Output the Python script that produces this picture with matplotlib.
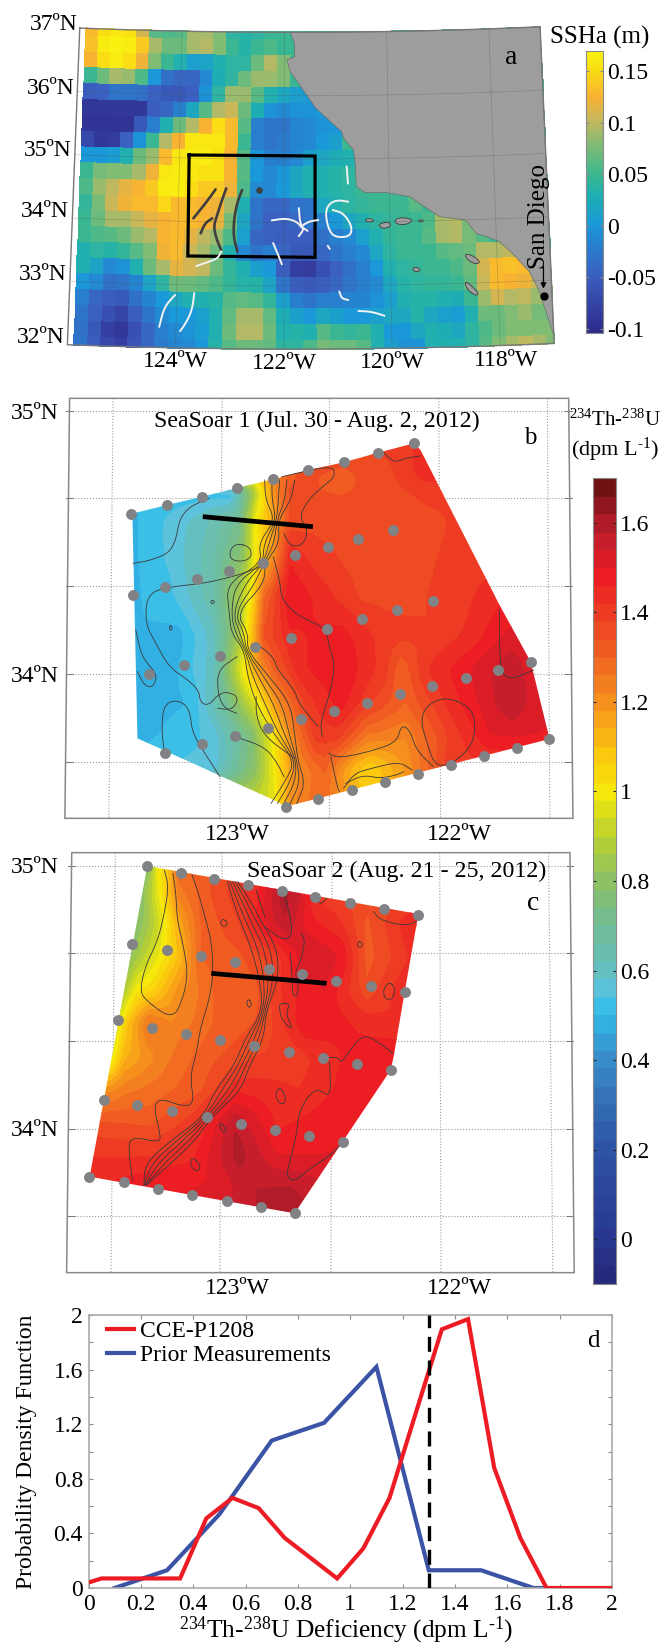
import numpy as np
import matplotlib
matplotlib.use("Agg")
import matplotlib.pyplot as plt
from matplotlib.colors import LinearSegmentedColormap, Normalize
from matplotlib.patches import Polygon

plt.rcParams["font.family"] = ["Liberation Serif", "DejaVu Serif"]
plt.rcParams["mathtext.default"] = "regular"
plt.rcParams["mathtext.fontset"] = "custom"
plt.rcParams["mathtext.rm"] = "Liberation Serif"

W, H = 666, 1646

# ---- panel a: SSHa cells, 0.01 m, north to south (missing cells are under land)
ssha_rows = [
    [13, 15, 16, 15.5, 11, 6, 5.5, 6, 9, 9, 8, 4, 3.5, 4, 5, 5],
    [13.5, 16.5, 17, 16.5, 14, 9, 7, 7, 9, 9.5, 8, 5, 3.5, 5, 5.5, 5],
    [12.5, 15, 16.5, 15, 12, 8, 5, 3, 1, 1.5, 3, 4, 4, 7, 9.5, 8],
    [5, 7, 9, 8.5, 5.5, 0, -3.5, -4, -4, -1, 2.5, 4, 7, 8.5, 8.5, 8, 5],
    [-5, -4.5, -3, -3, -3.5, -4.5, -5.5, -5.5, -4.5, -0.5, 4, 8.5, 8.5, 6, 3, 2, 1, 0.5],
    [-9, -9, -9, -9, -9, -5, -4, -2, 2, 6, 9.5, 10.5, 7, 2.5, -0.5, -1, -0.5, -0.5, 0],
    [-9.5, -9.5, -9.5, -9.5, -5.5, -2, 3, 7, 9.5, 12.5, 15, 13, 6, -2, -3, -3, -1.5, -1, -0.5, 0],
    [-7, -9, -8.5, -4.5, -0.5, 5, 9.5, 12.5, 16, 16, 16, 13, 5, -2, -3, -2.5, -1.5, -1, 0, 1],
    [0, 0, 0.5, 3, 7, 8.5, 13, 16, 16.5, 16.5, 15.5, 12.5, 6, 0, -2, -2, -1, 1, 2, 2.5, 3],
    [5, 7.5, 8, 8, 9, 12, 16, 16.5, 16, 15.5, 15.5, 12.5, 6, 0, -1, 0, 2, 3, 3, 3.5, 4],
    [5.5, 8.5, 10, 11.5, 12.5, 14, 16.5, 16.5, 15, 14, 14, 12, 5.5, -1, -1, 0, 2, 3, 3, 3.5, 4],
    [4.5, 7.5, 10.5, 12, 13, 13, 14.5, 13, 13, 12.5, 12, 9, 3, -3, -4, -4, -3, -3, 2, 3, 4, 4.5, 5, 5, 5, 6],
    [5, 7, 9, 9, 10.5, 11.5, 12.5, 13, 13, 12.5, 11.5, 7.5, 2, -3, -4.5, -4.5, -4, -3, -2, 0, 2, 3, 4, 4.5, 5, 5, 5.5, 9, 9.5, 7.5],
    [5, 5.5, 6, 7, 8.5, 9.5, 12.5, 13, 11.5, 10, 8.5, 5.5, 1, -4, -4.5, -5, -5, -5, -3.5, -2, -1, 1, 3, 4.5, 5, 5, 6, 9, 9.5, 7.5, 6],
    [3, 4, 3.5, 4.5, 6, 8, 12, 13, 10.5, 9, 7, 3, -1, -3, -2, -4, -5.5, -5.5, -4, -3, -2, -1, 2, 4, 5, 5, 5, 6, 6.5, 7, 9.5, 9.5, 10, 9],
    [3, 1.5, -1, -0.5, 3, 7, 9, 11.5, 11, 10, 7, 4.5, 3, 1, 0, -5, -8, -8.5, -6.5, -4.5, -3.5, -2, 0, 3, 4, 4.5, 5, 5, 5.5, 7, 11, 13, 13.5, 13, 12, 10],
    [0, -1, -3.5, -3, -1.5, 1.5, 4, 7, 7, 6.5, 5.5, 4.5, 3.5, 3.5, 1.5, -3, -5, -5.5, -5, -4, -3, -2, -1, 2, 3.5, 4, 4.5, 4.5, 5, 6.5, 10.5, 13, 12.5, 12, 10.5, 9],
    [-2, -4, -5, -5.5, -3.5, -1.5, 0, 2, 3, 3, 3.5, 6, 6.5, 6, 4.5, 1, -2, -3, -2, -2, -1.5, -1.5, -0.5, 1, 3, 3.5, 3.5, 3, 2.5, 5, 8.5, 11, 9.5, 10, 8.5, 8],
    [-3, -4.5, -6.5, -7.5, -5, -3, -1, 0, 0, 1, 3, 6.5, 9, 9, 6.5, 2.5, 1, 0, 2, 1, 0, 0, 1, 2, 2, 3.5, 2, 1, 0.5, 3, 7, 7, 8, 8.5, 7.5, 7],
    [-3.5, -5.5, -8, -9, -6.5, -4, -2, -1, -0.5, 0.5, 3, 7, 9.5, 9.5, 7, 3, 3.5, 3, 6, 5, 4.5, 5, 3, 0, 0, 2, 3, 2.5, 2, 4, 5.5, 7, 8, 8, 8, 8],
    [-3, -5, -7, -8, -6, -4, -2.5, -1.5, -1, 0, 3.5, 6, 7, 7, 6.5, 4, 4, 5.5, 7.5, 7, 7, 6, 3, 1, -0.5, -0.5, 3, 3, 3, 4, 6, 8, 9, 10, 9, 8],
]

# everything below is digitised in the frame of each map panel
coast = [(680, 97), (690, 130), (690, 170), (672, 180), (680, 215), (710, 270), (740, 325), (770, 360),
         (800, 395), (805, 415), (828, 450), (832, 490), (835, 560), (855, 578), (905, 578), (960, 590),
         (1000, 625), (1030, 650), (1090, 660), (1115, 700), (1140, 710), (1170, 725), (1200, 760),
         (1240, 815), (1262, 870), (1275, 920), (1297, 1005)]
islands = [
    [(855, 658), (870, 655), (877, 665), (858, 666)],
    [(885, 672), (912, 665), (916, 680), (895, 687)],
    [(925, 657), (945, 652), (970, 660), (950, 675), (928, 672)],
    [(980, 660), (992, 660), (990, 666), (981, 665)],
    [(1088, 762), (1105, 765), (1126, 785), (1115, 793), (1095, 780)],
    [(965, 805), (978, 801), (986, 812), (972, 816)],
    [(1088, 846), (1097, 848), (1122, 880), (1115, 888), (1095, 870)],
]
dark_tracks = [
    [(505, 568), (490, 595), (475, 620), (453, 655)],
    [(497, 655), (480, 670), (470, 700)],
    [(530, 565), (520, 600), (510, 640), (500, 680), (508, 720), (518, 750)],
    [(567, 570), (555, 610), (548, 660), (547, 710), (556, 755)],
]
white_tracks = [
    [(518, 755), (510, 775), (490, 785), (460, 798)],
    [(637, 661), (670, 655), (695, 665), (705, 680), (720, 692)],
    [(700, 625), (703, 670), (712, 688), (700, 708)],
    [(705, 680), (722, 665), (745, 660)],
    [(640, 730), (650, 760), (660, 792)],
    [(815, 605), (790, 600), (770, 612), (762, 640), (770, 690), (785, 712), (820, 710), (825, 680), (805, 640), (780, 630)],
    [(768, 738), (772, 746)],
    [(812, 500), (815, 550)],
    [(410, 885), (385, 920), (373, 980)],
    [(455, 880), (450, 930), (435, 970), (422, 993)],
    [(795, 875), (800, 895), (815, 900)],
    [(840, 933), (870, 935), (900, 947)],
]
study_box = [(443, 465), (738, 468), (738, 772), (440, 768), (443, 465)]

# ---- panel b
b_stations = [(306, 432), (391, 405), (474, 380), (556, 354), (640, 328), (722, 300), (805, 277), (886, 248), (969, 220),
              (692, 554), (769, 530), (838, 508), (920, 480), (616, 578), (536, 604), (462, 628), (386, 652), (311, 674),
              (1014, 692), (931, 720), (848, 748), (765, 777), (682, 805), (598, 831), (515, 859), (431, 886), (348, 912),
              (1243, 875), (1166, 899), (1092, 924), (1013, 948), (936, 973), (859, 998), (782, 1023), (704, 1048),
              (627, 1073), (551, 1098), (474, 1122), (386, 1148), (1287, 1107), (1210, 1134), (1133, 1159), (1056, 1186),
              (979, 1211), (902, 1236), (824, 1261), (746, 1286), (669, 1310)]
b_outline = [(306, 432), (391, 405), (474, 380), (556, 354), (640, 328), (722, 300), (805, 277), (886, 248), (969, 220),
             (985, 240), (1170, 705), (1243, 875), (1285, 1095), (1287, 1107), (669, 1310), (650, 1295), (322, 1105), (310, 432)]
# along-track profiles of 234Th-238U: row position, x positions, values
b_rows = [220, 300, 360, 450, 560, 680, 800, 900, 1000, 1100, 1200, 1320]
b_x = [
    [950, 1000],
    [640, 700, 800, 900, 1000],
    [480, 540, 590, 615, 640, 680, 800, 900, 1000, 1050],
    [310, 470, 560, 600, 640, 680, 800, 850, 950, 1050, 1100],
    [310, 400, 500, 570, 600, 640, 680, 750, 850, 950, 1100],
    [310, 400, 500, 560, 590, 620, 680, 780, 850, 950, 1050, 1170],
    [320, 420, 500, 560, 590, 620, 680, 800, 900, 1000, 1100, 1200],
    [320, 400, 500, 570, 600, 640, 700, 800, 900, 940, 1000, 1100, 1190, 1250],
    [320, 450, 530, 610, 650, 720, 800, 870, 950, 1050, 1150, 1200, 1270],
    [322, 500, 590, 640, 680, 740, 790, 860, 950, 1050, 1150, 1280],
    [500, 600, 645, 690, 760, 830, 870, 950, 1050],
    [640, 680, 750, 850, 1000],
]
b_v = [
    [1.4, 1.45],
    [1.2, 1.35, 1.33, 1.36, 1.45],
    [0.5, 0.49, 0.8, 1.0, 1.2, 1.35, 1.33, 1.36, 1.4, 1.4],
    [0.49, 0.6, 0.7, 1.0, 1.15, 1.35, 1.38, 1.37, 1.34, 1.38, 1.4],
    [0.49, 0.55, 0.65, 0.8, 1.0, 1.2, 1.45, 1.39, 1.36, 1.36, 1.4],
    [0.49, 0.53, 0.65, 0.85, 1.02, 1.3, 1.5, 1.42, 1.37, 1.37, 1.39, 1.45],
    [0.5, 0.48, 0.6, 0.85, 1.1, 1.35, 1.45, 1.48, 1.4, 1.38, 1.43, 1.52],
    [0.49, 0.48, 0.6, 1.0, 1.15, 1.3, 1.45, 1.5, 1.4, 1.3, 1.42, 1.5, 1.57, 1.52],
    [0.48, 0.5, 0.7, 1.0, 1.2, 1.4, 1.48, 1.38, 1.3, 1.43, 1.53, 1.58, 1.5],
    [0.48, 0.55, 0.75, 1.0, 1.2, 1.4, 1.4, 1.25, 1.22, 1.38, 1.5, 1.5],
    [0.55, 0.8, 1.0, 1.2, 1.3, 1.1, 1.05, 1.18, 1.4],
    [0.95, 1.2, 1.3, 1.1, 1.25],
]
# the bundled front, one row of x per contour
b_front_y = [330, 390, 450, 520, 580, 640, 730, 790, 840, 920, 1000, 1090, 1175, 1240, 1300]
b_front_x = [
    [620, 622, 645, 605, 614, 530, 537, 542, 572, 580, 600, 640, 692, 665, 635],
    [637, 637, 647, 618, 616, 552, 541, 552, 574, 592, 620, 652, 694, 678, 650],
    [655, 652, 648, 630, 617, 575, 545, 562, 575, 605, 640, 665, 695, 690, 665],
    [672, 667, 649, 642, 618, 597, 549, 572, 576, 617, 660, 677, 696, 702, 680],
    [690, 682, 651, 655, 620, 620, 553, 582, 578, 630, 680, 690, 698, 715, 695],
]
b_contours = [
    [(490, 385), (470, 395), (440, 415), (420, 450), (412, 510), (395, 550), (350, 572), (312, 580)],
    [(660, 320), (780, 285), (785, 320), (760, 345), (725, 385), (700, 440), (722, 480), (710, 525), (680, 530), (665, 490)],
    [(900, 250), (925, 278), (950, 264), (985, 258)],
    [(555, 520), (585, 530), (590, 560), (570, 575), (540, 570), (538, 540), (555, 520)],
    [(640, 560), (655, 630), (660, 690), (700, 740), (765, 775), (770, 830), (785, 880), (775, 960), (750, 1060), (755, 1100)],
    [(610, 590), (560, 615), (480, 640), (400, 650), (345, 670), (340, 760), (365, 820), (395, 890), (440, 930),
     (465, 960), (470, 1000), (490, 1005), (510, 975), (530, 965), (560, 980), (545, 1020), (510, 1015)],
    [(318, 780), (330, 850), (345, 880), (368, 915), (360, 950), (340, 950), (322, 905)],
    [(555, 860), (510, 900), (510, 970), (525, 1015), (555, 1030)],
    [(610, 830), (640, 860), (650, 900), (690, 960), (700, 1000), (745, 1070)],
    [(600, 980), (600, 1040), (620, 1100), (690, 1165)],
    [(385, 1150), (378, 1070), (385, 1000), (420, 990), (445, 1020), (450, 1090), (490, 1170), (515, 1220)],
    [(550, 1100), (620, 1130), (650, 1180), (665, 1220)],
    [(1045, 980), (1100, 1010), (1115, 1060), (1105, 1130), (1060, 1180), (1020, 1190), (1000, 1120), (985, 1050), (1000, 1005), (1045, 980)],
    [(770, 1150), (795, 1165), (880, 1140), (930, 1115), (940, 1065), (960, 1080), (975, 1140), (1015, 1190)],
    [(775, 1160), (790, 1250), (795, 1265)],
    [(805, 1255), (830, 1210), (870, 1195), (935, 1175), (965, 1200)],
    [(810, 1240), (850, 1215), (890, 1225), (930, 1215), (945, 1205)],
    [(1170, 720), (1170, 870), (1180, 920), (1205, 925), (1250, 900)],
    [(494, 692), (502, 692), (502, 700), (494, 700), (494, 692)],
    [(397, 768), (403, 768), (403, 780), (397, 780), (397, 768)],
]
b_track = [(475, 440), (733, 470)]

# ---- panel c
c_stations = [(345, 77), (424, 98), (502, 116), (582, 134), (660, 153), (738, 170), (820, 188), (899, 207), (980, 224),
              (309, 313), (390, 329), (470, 348), (550, 367), (630, 386), (708, 402), (788, 422), (868, 438), (948, 457),
              (277, 541), (356, 563), (436, 581), (516, 600), (596, 618), (676, 636), (756, 655), (837, 672), (916, 689),
              (243, 781), (322, 795), (403, 813), (484, 832), (564, 851), (645, 869), (724, 887), (804, 905),
              (209, 1012), (290, 1026), (371, 1047), (450, 1064), (531, 1082), (612, 1101), (691, 1120)]
c_outline = [(345, 78), (980, 222), (950, 440), (922, 650), (915, 690), (690, 1120), (210, 1010)]
c_rows = [70, 150, 250, 350, 450, 550, 650, 750, 850, 950, 1030, 1130]
c_x = [
    [345, 370, 390, 420, 500, 560],
    [335, 365, 385, 420, 500, 600, 660, 700, 740, 900],
    [320, 350, 390, 420, 470, 560, 620, 670, 720, 800, 860, 975],
    [305, 340, 380, 420, 470, 560, 650, 720, 800, 860, 960],
    [290, 320, 360, 420, 500, 600, 680, 760, 860, 945],
    [275, 300, 350, 400, 500, 620, 720, 800, 930],
    [262, 290, 350, 420, 500, 600, 700, 800, 920],
    [245, 300, 370, 470, 560, 700, 800, 880],
    [232, 350, 450, 550, 650, 750, 830],
    [218, 350, 450, 560, 650, 750, 790],
    [210, 400, 500, 600, 680, 730],
    [450, 600, 690],
]
c_v = [
    [0.75, 1.0, 1.05, 1.3, 1.33, 1.4],
    [0.8, 0.95, 1.05, 1.25, 1.35, 1.45, 1.6, 1.55, 1.4, 1.35],
    [0.78, 0.85, 1.0, 1.15, 1.3, 1.38, 1.5, 1.58, 1.48, 1.42, 1.33, 1.47],
    [0.8, 0.9, 1.0, 1.1, 1.3, 1.33, 1.4, 1.55, 1.5, 1.32, 1.42],
    [0.85, 1.0, 1.05, 1.2, 1.3, 1.33, 1.45, 1.5, 1.35, 1.45],
    [0.95, 1.1, 1.28, 1.22, 1.3, 1.35, 1.5, 1.47, 1.42],
    [0.95, 1.12, 1.2, 1.28, 1.33, 1.38, 1.4, 1.46, 1.5],
    [1.2, 1.25, 1.28, 1.33, 1.45, 1.42, 1.47, 1.5],
    [1.35, 1.33, 1.4, 1.58, 1.45, 1.48, 1.5],
    [1.42, 1.42, 1.45, 1.6, 1.5, 1.5, 1.5],
    [1.45, 1.5, 1.5, 1.58, 1.58, 1.55],
    [1.5, 1.58, 1.6],
]
c_front_y = [125, 180, 250, 330, 420, 510, 600, 680, 750, 832, 900, 970, 1035]
c_front_x = [
    [533, 545, 565, 590, 608, 616, 573, 547, 505, 475, 402, 340, 337],
    [539, 555, 578, 605, 619, 618, 584, 556, 520, 480, 416, 355, 338],
    [545, 565, 590, 620, 630, 620, 595, 565, 535, 485, 430, 370, 340],
    [551, 575, 603, 635, 641, 622, 606, 574, 550, 490, 444, 385, 342],
    [557, 585, 615, 650, 652, 624, 617, 583, 565, 495, 458, 400, 343],
]
c_contours = [
    [(385, 90), (395, 140), (385, 220), (370, 300), (340, 380), (328, 450), (340, 480), (405, 540), (430, 470),
     (440, 400), (430, 320), (415, 240), (412, 160), (405, 100)],
    [(450, 105), (465, 160), (480, 230), (495, 300), (500, 400), (490, 480), (470, 560), (460, 640), (445, 710),
     (455, 790), (430, 800), (375, 775), (360, 800), (375, 880), (375, 908), (310, 890), (300, 920), (310, 1020)],
    [(665, 160), (680, 230), (685, 290), (660, 300), (620, 260)],
    [(600, 150), (620, 230)],
    [(875, 215), (890, 240), (950, 258), (975, 245)],
    [(740, 170), (750, 195), (765, 175)],
    [(838, 305), (848, 305), (848, 322), (838, 322), (838, 305)],
    [(912, 424), (926, 445), (920, 478), (902, 478), (897, 450), (912, 424)],
    [(582, 476), (590, 490), (584, 505), (577, 490), (582, 476)],
    [(655, 740), (670, 770), (665, 795), (650, 785), (645, 760), (655, 740)],
    [(452, 952), (470, 975), (465, 995), (450, 985), (445, 965), (452, 952)],
    [(517, 845), (530, 870), (525, 880), (513, 860), (517, 845)],
    [(522, 235), (535, 250), (525, 262), (515, 250), (522, 235)],
    [(705, 280), (715, 300), (705, 360), (690, 400), (700, 440), (695, 470), (685, 465), (683, 380), (680, 340)],
    [(655, 490), (680, 490), (670, 520), (680, 550), (685, 570), (660, 540), (655, 510), (655, 490)],
    [(760, 655), (790, 650), (800, 670), (820, 630), (850, 585), (880, 600), (920, 640)],
    [(772, 665), (775, 775), (745, 745), (720, 770), (700, 820), (695, 880), (680, 960), (670, 1010), (690, 1025), (720, 990), (770, 950), (805, 905)],
]
c_track = [(495, 400), (765, 430)]

# ---- panel d
cce_x = [0, 0.05, 0.35, 0.45, 0.55, 0.65, 0.75, 0.95, 1.05, 1.15, 1.25, 1.35, 1.45, 1.55, 1.65, 1.75, 2]
cce_y = [0.04, 0.07, 0.07, 0.51, 0.66, 0.585, 0.366, 0.07, 0.29, 0.66, 1.28, 1.895, 1.97, 0.88, 0.366, 0, 0]
prior_x = [0.1, 0.3, 0.5, 0.7, 0.9, 1.1, 1.3, 1.5, 1.7, 1.75]
prior_y = [0, 0.13, 0.54, 1.08, 1.21, 1.62, 0.13, 0.13, 0, 0]

ssha_ticks = [-0.1, -0.05, 0, 0.05, 0.1, 0.15]
th_ticks = [0, 0.2, 0.4, 0.6, 0.8, 1, 1.2, 1.4, 1.6]

ssha_cmap = LinearSegmentedColormap.from_list("ssha", [
    (0.0, "#2f2c8c"), (0.2, "#3b5fc0"), (0.38, "#1a98d8"), (0.49, "#20b0b0"), (0.565, "#3eb88e"),
    (0.66, "#7cbc76"), (0.75, "#c2b860"), (0.84, "#f9b233"), (0.93, "#fadb14"), (1.0, "#f9f10f")], N=64)
ssha_norm = Normalize(-0.104, 0.17)

th_vals = [-0.1, 0, 0.2, 0.3, 0.4, 0.5, 0.55, 0.6, 0.7, 0.8, 0.9, 1.0, 1.1, 1.2, 1.3, 1.4, 1.5, 1.6, 1.7]
th_cols = ["#252a7c", "#283a94", "#2f55a8", "#3471b8", "#3a8fcf", "#2fbdea", "#5cc3df", "#65c0bd", "#72bd97",
           "#8cc265", "#b9d131", "#f5ea0a", "#fcc40e", "#f7941d", "#f16922", "#ee4023", "#ec1c24", "#be1e2d", "#701214"]
th_cmap = LinearSegmentedColormap.from_list("th", [((v + 0.1) / 1.8, c) for v, c in zip(th_vals, th_cols)], N=45)
th_norm = Normalize(-0.1, 1.7)


def chaikin(points, n=3):
    # round off the digitised corners
    p = np.asarray(points, dtype=float)
    closed = np.allclose(p[0], p[-1])
    for _ in range(n):
        q = 0.75 * p[:-1] + 0.25 * p[1:]
        r = 0.25 * p[:-1] + 0.75 * p[1:]
        mid = np.empty((2 * len(q), 2))
        mid[0::2], mid[1::2] = q, r
        if closed:
            p = np.vstack([mid, mid[0]])
        else:
            p = np.vstack([p[0], mid, p[-1]])
    return p


def map_axes(top, height):
    # transparent axes over one slice of the figure, units are the digitising frame
    ax = fig.add_axes([0, 1 - (top + height) / H, 1, height / H])
    ax.set_xlim(0, 1560)
    ax.set_ylim(height * 3, 0)
    ax.axis("off")
    return ax


def project(lon, lat):
    lon, lat = np.asarray(lon, dtype=float), np.asarray(lat, dtype=float)
    k = 119.8 + (37 - lat) * 6.9 / 5
    x = 690 + (lon + 121.8) * k
    y = 83 + (37 - lat) * 190 + 14 * (1 - ((lon + 121.8) / 4.4) ** 2)
    return x, y


def field_from_profiles(rows, xs, vs):
    gx = np.arange(180, 1340, 4.0)
    gy = np.arange(60, 1340, 4.0)
    table = np.array([np.interp(gx, x, v) for x, v in zip(xs, vs)])
    z = np.array([np.interp(gy, rows, table[:, i]) for i in range(len(gx))]).T
    # soften the steps between profile rows
    win = np.ones(13) / 13
    pad = np.pad(z, ((6, 6), (0, 0)), mode="edge")
    z = np.array([np.convolve(pad[:, i], win, mode="valid") for i in range(len(gx))]).T
    return gx, gy, z


def soar_panel(ax, frame, hlines, vtop, vbot, rows, xs, vs, outline, front_y, front_x, contours, track, stations):
    for y in hlines:
        ax.plot([frame[0][0] - 8, frame[1][0] + 8], [y, y], color="#9a9a9a", lw=0.8, ls=":", zorder=1)
        ax.plot([frame[0][0] - 8, frame[0][0] + 8], [y, y], color="#777777", lw=0.7, zorder=1)
        ax.plot([frame[1][0] - 8, frame[1][0] + 8], [y, y], color="#777777", lw=0.7, zorder=1)
    for xt, xb in zip(vtop, vbot):
        ax.plot([xt, xb], [frame[0][1], frame[2][1]], color="#9a9a9a", lw=0.8, ls=":", zorder=1)
    ax.add_patch(Polygon(frame, closed=True, fill=False, ec="#888888", lw=1.1, zorder=2))
    gx, gy, z = field_from_profiles(rows, xs, vs)
    cs = ax.contourf(gx, gy, z, levels=np.linspace(-0.1, 1.7, 46), cmap=th_cmap, norm=th_norm, zorder=3)
    clip = Polygon(outline, closed=True, transform=ax.transData)
    cs.set_clip_path(clip)
    for xrow in front_x:
        p = chaikin(np.column_stack([xrow, front_y]))
        ax.plot(p[:, 0], p[:, 1], color="#3a3a3a", lw=0.6, zorder=4)
    for line in contours:
        p = chaikin(line)
        ax.plot(p[:, 0], p[:, 1], color="#3a3a3a", lw=0.6, zorder=4)
    tx, ty = zip(*track)
    ax.plot(tx, ty, color="black", lw=3.4, solid_capstyle="butt", zorder=5)
    sx, sy = zip(*stations)
    ax.scatter(sx, sy, s=62, color="#808285", lw=0, zorder=6)


fig = plt.figure(figsize=(W / 100, H / 100), dpi=100, facecolor="white")

# ---- panel a
ax_a = map_axes(0, 370)
lon_edges = np.minimum(-125.875 + 0.25 * np.arange(37), -117)
lat_edges = np.concatenate([[37], 36.875 - 0.25 * np.arange(20), [32]])
ssha = np.array([r + [5] * (36 - len(r)) for r in ssha_rows]) / 100
LON, LAT = np.meshgrid(lon_edges, lat_edges)
MX, MY = project(LON, LAT)
ax_a.pcolormesh(MX, MY, ssha, cmap=ssha_cmap, norm=ssha_norm, shading="flat", edgecolors="face", lw=0.2, zorder=1)

top_lon = np.linspace(-117, -121.88, 12)
rx, ry = project(np.full(12, -117.0), np.linspace(32.15, 37, 12))
tx, ty = project(top_lon, np.full(12, 37.0))
land = np.vstack([np.array(coast), np.column_stack([rx, ry]), np.column_stack([tx, ty])])
ax_a.add_patch(Polygon(land, closed=True, fc="#9d9d9d", ec="#6e6e6e", lw=0.5, zorder=2))
for isl in islands:
    ax_a.add_patch(Polygon(chaikin(isl + [isl[0]], 2), closed=True, fc="#9d9d9d", ec="#3c3c3c", lw=0.6, zorder=3))

# graticule and frame
for lon in [-124, -122, -120, -118]:
    gx_, gy_ = project(np.full(30, float(lon)), np.linspace(32, 37, 30))
    ax_a.plot(gx_, gy_, color="#4a4a4a", lw=0.45, ls=(0, (2, 1)), alpha=0.5, zorder=3)
for lat in [33, 34, 35, 36]:
    gx_, gy_ = project(np.linspace(-126, -117, 30), np.full(30, float(lat)))
    ax_a.plot(gx_, gy_, color="#4a4a4a", lw=0.45, ls=(0, (2, 1)), alpha=0.5, zorder=3)
fl = np.concatenate([np.linspace(-126, -117, 30), np.full(2, -117), np.linspace(-117, -126, 30), np.full(2, -126)])
fb = np.concatenate([np.full(30, 37), [37, 32], np.full(30, 32), [32, 37]])
fx, fy = project(fl, fb)
ax_a.plot(fx, fy, color="#777777", lw=1.0, zorder=4)

bx, by = zip(*study_box)
ax_a.plot(bx, by, color="black", lw=2.3, solid_joinstyle="miter", zorder=5)
for tr in dark_tracks:
    p = chaikin(tr)
    ax_a.plot(p[:, 0], p[:, 1], color="#3f3f3f", lw=1.9, solid_capstyle="round", zorder=6)
ax_a.scatter([606], [569], s=22, color="#3f3f3f", lw=0, zorder=6)
for tr in white_tracks:
    p = chaikin(tr)
    ax_a.plot(p[:, 0], p[:, 1], color="#f2f2f2", lw=1.4, zorder=6)
ax_a.scatter([1275], [888], s=36, color="black", lw=0, zorder=7)
ax_a.annotate("", xy=(1273, 866), xytext=(1273, 800), zorder=7,
              arrowprops=dict(arrowstyle="-|>", lw=0.9, color="black", mutation_scale=8, shrinkA=0, shrinkB=0))
ax_a.text(1262, 650, "San Diego", rotation=90, fontsize=18, ha="center", va="center", zorder=8)
ax_a.text(1198, 172, "a", fontsize=20, ha="center", va="center", zorder=8)
ax_a.text(1405, 111, "SSHa (m)", fontsize=18, ha="center", va="center")
lat_lab_x = [126, 120, 112, 105, 100, 95]
lat_lab_y = [75, 265, 450, 635, 825, 1012]
for xp, yp, lab in zip(lat_lab_x, lat_lab_y, [37, 36, 35, 34, 33, 32]):
    ax_a.text(xp, yp, f"{lab}ºN", fontsize=17, ha="center", va="center")
for xp, yp, lab in zip([410, 665, 920, 1185], [1085, 1090, 1088, 1080], [124, 122, 120, 118]):
    ax_a.text(xp, yp, f"{lab}ºW", fontsize=17, ha="center", va="center")

# ---- panel b
ax_b = map_axes(370, 480)
soar_panel(ax_b, [(163, 85), (1332, 85), (1342, 1345), (152, 1345)], [122, 385, 648, 912, 1175],
           [265, 520, 770, 1028, 1282], [255, 515, 770, 1032, 1288], b_rows, b_x, b_v, b_outline,
           b_front_y, b_front_x, b_contours, b_track, b_stations)
ax_b.text(743, 153, "SeaSoar 1 (Jul. 30 - Aug. 2, 2012)", fontsize=17.2, ha="center", va="center", zorder=8)
ax_b.text(1243, 205, "b", fontsize=18, ha="center", va="center", zorder=8)
ax_b.text(82, 130, "35ºN", fontsize=17, ha="center", va="center")
ax_b.text(82, 920, "34ºN", fontsize=17, ha="center", va="center")
ax_b.text(555, 1393, "123ºW", fontsize=17, ha="center", va="center")
ax_b.text(1075, 1393, "122ºW", fontsize=17, ha="center", va="center")
ax_b.text(1441, 150, r"$^{234}$Th-$^{238}$U", fontsize=15, ha="center", va="center")
ax_b.text(1441, 240, r"(dpm L$^{\text{-1}}$)", fontsize=16, ha="center", va="center")

# ---- panel c
ax_c = map_axes(840, 440)
soar_panel(ax_c, [(168, 38), (1335, 38), (1345, 1298), (156, 1298)], [77, 340, 603, 866, 1128],
           [270, 520, 778, 1030, 1285], [260, 515, 775, 1033, 1295], c_rows, c_x, c_v, c_outline,
           c_front_y, c_front_x, c_contours, c_track, c_stations)
ax_c.text(928, 95, "SeaSoar 2 (Aug. 21 - 25, 2012)", fontsize=17.2, ha="center", va="center", zorder=8)
ax_c.text(1248, 190, "c", fontsize=20, ha="center", va="center", zorder=8)
ax_c.text(82, 82, "35ºN", fontsize=17, ha="center", va="center")
ax_c.text(82, 870, "34ºN", fontsize=17, ha="center", va="center")
ax_c.text(555, 1344, "123ºW", fontsize=17, ha="center", va="center")
ax_c.text(1075, 1344, "122ºW", fontsize=17, ha="center", va="center")


def colorbar_axes(x0, x1, y0, y1, cmap, norm, ticks, labels, tick_color):
    cax = fig.add_axes([x0 / W, 1 - y1 / H, (x1 - x0) / W, (y1 - y0) / H])
    grad = np.linspace(norm.vmin, norm.vmax, 512).reshape(-1, 1)
    cax.imshow(grad, aspect="auto", origin="lower", cmap=cmap, norm=norm, extent=[0, 1, norm.vmin, norm.vmax])
    cax.set_xticks([])
    cax.set_yticks(ticks)
    cax.set_yticklabels(labels, fontsize=17)
    cax.yaxis.tick_right()
    cax.tick_params(axis="y", direction="in", left=True, right=True, length=2.5, width=0.8, pad=3, color=tick_color)
    for s in cax.spines.values():
        s.set_color("#8a8a8a")
        s.set_linewidth(0.8)
    return cax


colorbar_axes(586, 603, 50.5, 333, ssha_cmap, ssha_norm, ssha_ticks,
              ["-0.1", "-0.05", "0", "0.05", "0.1", "0.15"], "#8a8a8a")
colorbar_axes(593, 616, 478, 1284, th_cmap, th_norm, th_ticks, [f"{t:g}" for t in th_ticks], "#222222")

# ---- panel d
ax_d = fig.add_axes([88.5 / W, 1 - 1588 / H, (612 - 88.5) / W, (1588 - 1315) / H])
ax_d.plot(cce_x, cce_y, color="#ed1c24", lw=3, label="CCE-P1208", solid_joinstyle="miter", zorder=3)
ax_d.plot(prior_x, prior_y, color="#3a53a4", lw=3, label="Prior Measurements", solid_joinstyle="miter", zorder=2)
ax_d.plot([1.3, 1.3], [0, 2], color="black", lw=2.4, ls=(0, (4.5, 2.6)), zorder=4)
ax_d.set_xlim(0, 2)
ax_d.set_ylim(0, 2)
ax_d.set_xticks(np.arange(0, 2.01, 0.2))
ax_d.set_xticklabels(["0", "0.2", "0.4", "0.6", "0.8", "1", "1.2", "1.4", "1.6", "1.8", "2"], fontsize=17)
ax_d.set_yticks(np.arange(0, 2.01, 0.2))
ax_d.set_yticklabels(["0", "", "0.4", "", "0.8", "", "1.2", "", "1.6", "", "2"], fontsize=17)
ax_d.tick_params(direction="in", top=True, right=True, length=3, width=0.8, color="#8a8a8a", pad=4)
for s in ax_d.spines.values():
    s.set_color("#aaaaaa")
    s.set_linewidth(1.2)
ax_d.set_xlabel(r"$^{234}$Th-$^{238}$U Deficiency (dpm L$^{\text{-1}}$)", fontsize=18.3, labelpad=0, x=0.492)
ax_d.set_ylabel("Probability Density Function", fontsize=17, labelpad=12)
ax_d.text(1.93, 1.81, "d", fontsize=18, ha="center", va="center")
ax_d.legend(loc="upper left", bbox_to_anchor=(0.035, 0.98), frameon=False, fontsize=17, handlelength=1.15,
            handletextpad=0.25, labelspacing=0.1, borderpad=0, borderaxespad=0)

fig.savefig("out.png", dpi=100)
